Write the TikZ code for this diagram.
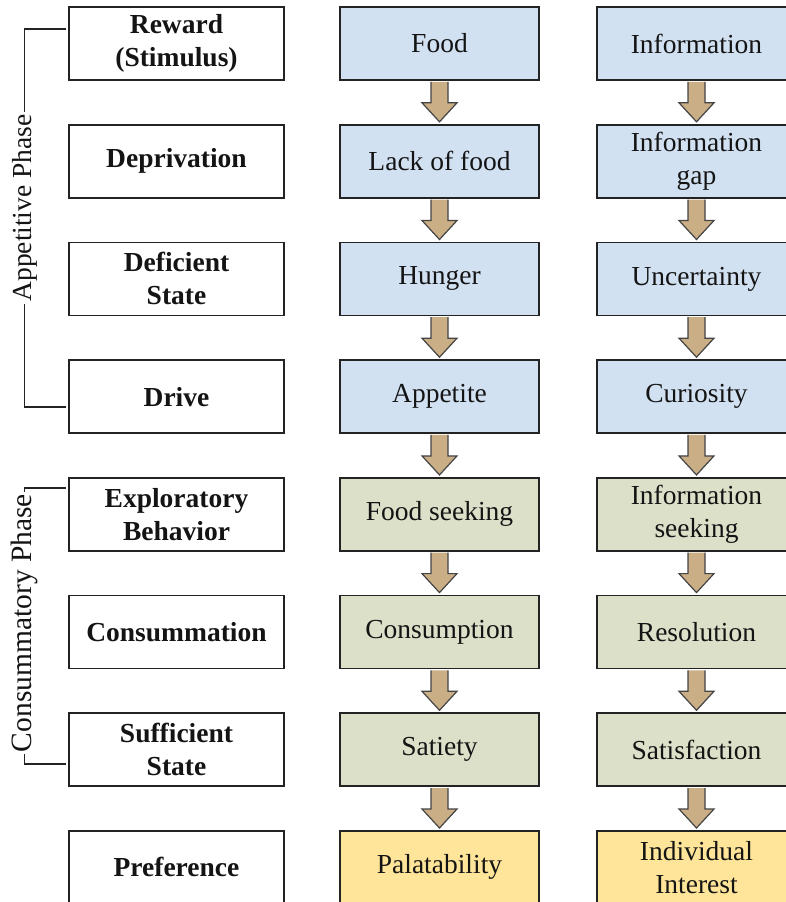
\documentclass[tikz,border=0pt]{standalone}
\usepackage{fontspec}
\setmainfont{Liberation Serif}
\usetikzlibrary{calc}
\definecolor{bluebox}{RGB}{210,225,242}
\definecolor{greenbox}{RGB}{220,224,201}
\definecolor{yellowbox}{RGB}{255,229,153}
\definecolor{tanarrow}{RGB}{201,174,134}
\definecolor{boxline}{RGB}{35,35,35}
\definecolor{textc}{RGB}{20,20,20}
\tikzset{
  box/.style={draw=boxline, line width=1.8pt, minimum height=73pt, inner sep=0pt, align=center, text=textc, font=\fontsize{27.5}{33}\selectfont},
  lbox/.style={box, fill=white, minimum width=215pt, font=\fontsize{27.5}{33}\selectfont\bfseries},
  bbox/.style={box, fill=bluebox, minimum width=199pt},
  gbox/.style={box, fill=greenbox, minimum width=199pt},
  ybox/.style={box, fill=yellowbox, minimum width=199pt},
  arrowfill/.style={fill=tanarrow, draw=boxline!85, line width=1.2pt, line join=miter},
  bracket/.style={draw=boxline, line width=1.5pt},
  phase/.style={rotate=90, fill=white, inner xsep=2pt, inner ysep=0pt, text=textc, font=\fontsize{27.5}{33}\selectfont}
}
\newcommand\flowarrow[2]{%
  \filldraw[arrowfill] let \p1=(#1.south), \p2=(#2.north) in
    (\x1-8.5pt,\y1-0.9pt) -- (\x1-8.5pt,\y2+21pt) -- (\x1-17.5pt,\y2+21pt) -- (\x1,\y2+2pt)
    -- (\x1+17.5pt,\y2+21pt) -- (\x1+8.5pt,\y2+21pt) -- (\x1+8.5pt,\y1-0.9pt);}
\begin{document}
\begin{tikzpicture}[x=1pt,y=-1pt]
\useasboundingbox (0,0) rectangle (786,902);
\clip (0,0) rectangle (786,902);
% left column
\node[lbox] (L1) at (176.5,43.5) {Reward\\(Stimulus)};
\node[lbox] (L2) at (176.5,161.2) {Deprivation};
\node[lbox] (L3) at (176.5,278.9) {Deficient\\State};
\node[lbox] (L4) at (176.5,396.6) {Drive};
\node[lbox] (L5) at (176.5,514.3) {Exploratory\\Behavior};
\node[lbox] (L6) at (176.5,632.0) {Consummation};
\node[lbox] (L7) at (176.5,749.7) {Sufficient\\State};
\node[lbox] (L8) at (176.5,867.4) {Preference};
% middle column
\node[bbox] (F1) at (439.5,43.5) {Food};
\node[bbox] (F2) at (439.5,161.2) {Lack of food};
\node[bbox] (F3) at (439.5,278.9) {Hunger};
\node[bbox] (F4) at (439.5,396.6) {Appetite};
\node[gbox] (F5) at (439.5,514.3) {Food seeking};
\node[gbox] (F6) at (439.5,632.0) {Consumption};
\node[gbox] (F7) at (439.5,749.7) {Satiety};
\node[ybox] (F8) at (439.5,867.4) {Palatability};
% right column
\node[bbox] (I1) at (696.5,43.5) {Information};
\node[bbox] (I2) at (696.5,161.2) {Information\\gap};
\node[bbox] (I3) at (696.5,278.9) {Uncertainty};
\node[bbox] (I4) at (696.5,396.6) {Curiosity};
\node[gbox] (I5) at (696.5,514.3) {Information\\seeking};
\node[gbox] (I6) at (696.5,632.0) {Resolution};
\node[gbox] (I7) at (696.5,749.7) {Satisfaction};
\node[ybox] (I8) at (696.5,867.4) {Individual\\Interest};
% arrows
\foreach \a/\b in {1/2,2/3,3/4,4/5,5/6,6/7,7/8}{
  \flowarrow{F\a}{F\b}
  \flowarrow{I\a}{I\b}
}
% brackets
\coordinate (aT) at (66,29);
\coordinate (aB) at (66,407);
\draw[bracket] (aT) -- (24.5,29) -- (24.5,407) -- (aB);
\node[phase] (AP) at (24.5,208) {Appetitive Phase};
\coordinate (cT) at (66,488);
\coordinate (cB) at (66,764);
\draw[bracket] (cT) -- (24.5,488) -- (24.5,764) -- (cB);
\node[phase, font=\fontsize{29.5}{35}\selectfont] (CP) at (24.5,623) {Consummatory Phase};
\end{tikzpicture}
\end{document}
